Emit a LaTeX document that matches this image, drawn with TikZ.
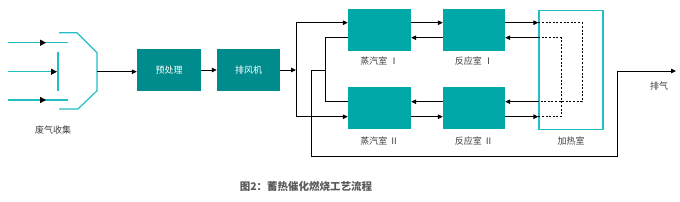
\documentclass[tikz,border=0pt]{standalone}
\usepackage{fontspec}
\newfontfamily\cjk{Noto Sans CJK SC}
\usetikzlibrary{arrows.meta}
\definecolor{darkteal}{RGB}{0,140,140}
\definecolor{teal2}{RGB}{0,168,168}
\definecolor{cyanline}{RGB}{34,190,198}
\definecolor{txt}{RGB}{60,60,60}
\begin{document}
\begin{tikzpicture}[x=1pt,y=-1pt,
  darkbox/.style={fill=darkteal,draw=none,minimum width=64pt,minimum height=42pt,inner sep=0pt,text=white,font=\cjk\fontsize{9}{10}\selectfont},
  lightbox/.style={fill=teal2,draw=none,minimum width=63pt,minimum height=41.7pt,inner sep=0pt},
  lbl/.style={text=txt,font=\cjk\fontsize{9}{10}\selectfont,inner sep=0pt},
  cline/.style={draw=cyanline,line width=1.2pt},
  arr/.style={draw=black,line width=1pt,-{Triangle[length=5pt,width=4.5pt]}},
  plain/.style={draw=black,line width=1pt},
  dsh/.style={draw=black,line width=1pt,dash pattern=on 2pt off 1.6pt},
  head/.style={fill=black}]
\useasboundingbox (0,0) rectangle (680,201);
% y levels
\coordinate (yA) at (0,22.7);
\coordinate (yB) at (0,37.7);
\coordinate (yC) at (0,101.7);
\coordinate (yD) at (0,116.7);
% collector
\draw[cline] (8,42.7) -- (68,42.7);
\draw[cline] (8,71.7) -- (53,71.7);
\draw[cline] (8,100) -- (68,100);
\draw[cline] (58,52) -- (58,91);
\draw[cline] (59,32.7) -- (77,32.7) -- (97,52.7) -- (97,90.7) -- (78,109) -- (59,109);
\fill[head] (40,39.5) -- (46,42.7) -- (40,45.9) -- cycle;
\fill[head] (51,68.5) -- (57,71.7) -- (51,74.9) -- cycle;
\fill[head] (40,96.8) -- (46,100) -- (40,103.2) -- cycle;
\coordinate (funnel) at (97,71.7);
\node[lbl] (collab) at (53,130) {废气收集};
% boxes
\node[darkbox] (pre) at (169,70) {预处理};
\node[darkbox,minimum width=63pt] (fan) at (248.5,70) {排风机};
\node[lightbox] (s1) at (379.5,30.2) {};
\node[lightbox] (s2) at (379.5,108.3) {};
\node[lightbox,minimum width=62pt] (r1) at (474,30.2) {};
\node[lightbox,minimum width=62pt] (r2) at (474,108.3) {};
\node[lbl] (s1l) at (379.5,61) {蒸汽室 Ⅰ};
\node[lbl] (s2l) at (379.5,141) {蒸汽室 Ⅱ};
\node[lbl] (r1l) at (474,61) {反应室 Ⅰ};
\node[lbl] (r2l) at (474,141) {反应室 Ⅱ};
\node[draw=cyanline,line width=1.2pt,minimum width=64pt,minimum height=118.6pt,inner sep=0pt] (heat) at (571,70) {};
\node[lbl] (heatl) at (571,141) {加热室};
% main flow
\draw[arr] (funnel) -- (pre.west |- funnel);
\draw[arr] (pre.east) -- (fan.west);
\coordinate (split) at (296,70);
\draw[arr] (fan.east) -- (split);
\draw[arr] (split) |- (s1.west |- yA);
\draw[arr] (split) |- (s2.west |- yD);
\coordinate (ret) at (325.7,70.7);
\draw[plain] (s1.west |- yB) -| (ret) |- (s2.west |- yC);
\coordinate (exh) at (676,71);
\draw[arr] (ret) -- (311,70.7) -- (311,156.7) -- (617,156.7) -- (617,71) -- (exh);
\node[lbl] (exhl) at (659,86) {排气};
% between steam and reactor
\draw[arr] (s1.east |- yA) -- (r1.west |- yA);
\draw[arr] (r1.west |- yB) -- (s1.east |- yB);
\draw[arr] (r2.west |- yC) -- (s2.east |- yC);
\draw[arr] (s2.east |- yD) -- (r2.west |- yD);
% heating loops
\draw[dsh] (heat.west |- yA) -| (582,101.7) -- (heat.west |- yC);
\draw[dsh] (heat.west |- yD) -| (561,37.7) -- (heat.west |- yB);
\draw[arr] (r1.east |- yA) -- (heat.west |- yA);
\draw[arr] (heat.west |- yC) -- (r2.east |- yC);
\draw[arr] (r2.east |- yD) -- (heat.west |- yD);
\draw[arr] (heat.west |- yB) -- (r1.east |- yB);
% caption
\node[text=black!65,font=\cjk\bfseries\fontsize{10.5}{12}\selectfont,inner sep=0pt] (cap) at (306,187) {图2：蓄热催化燃烧工艺流程};
\end{tikzpicture}
\end{document}
